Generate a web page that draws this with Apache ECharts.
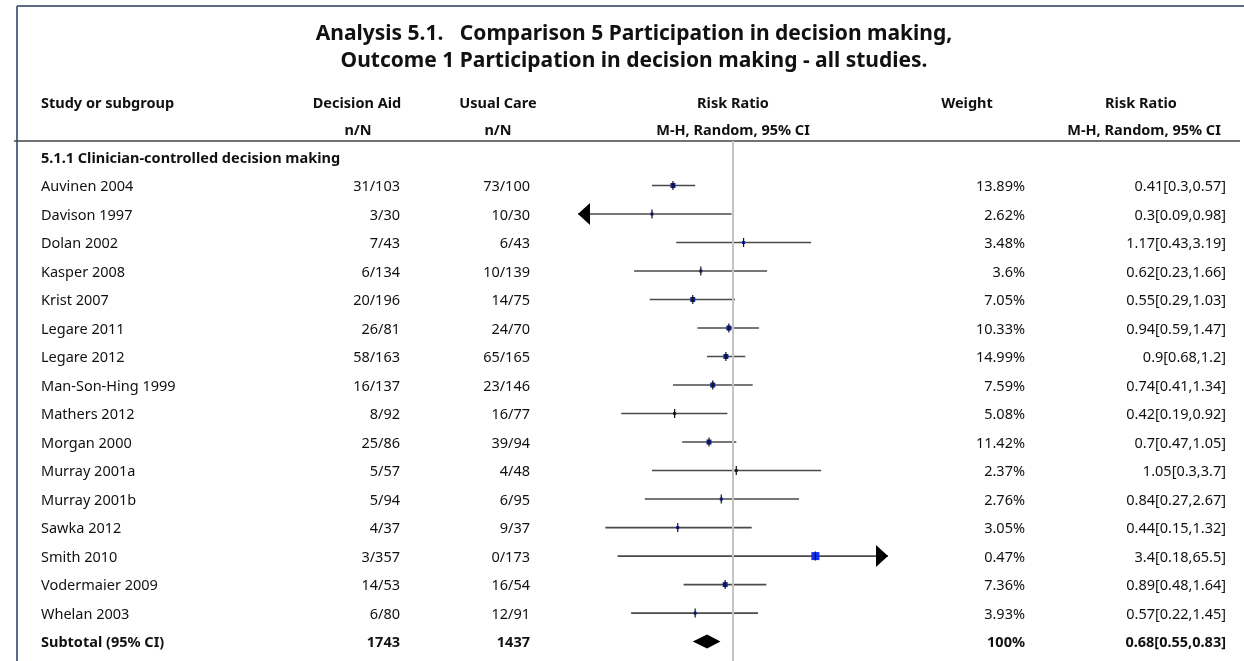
<!DOCTYPE html>
<html>
<head>
<meta charset="utf-8">
<script src="https://cdn.jsdelivr.net/npm/echarts@6/dist/echarts.min.js"></script>
<style>
  html, body { margin: 0; padding: 0; background: #fff; }
  #main { width: 1244px; height: 661px; }
</style>
</head>
<body>
<div id="main"></div>
<script>
// 数据
const studies = ['Auvinen 2004', 'Davison 1997', 'Dolan 2002', 'Kasper 2008', 'Krist 2007', 'Legare 2011', 'Legare 2012',
  'Man-Son-Hing 1999', 'Mathers 2012', 'Morgan 2000', 'Murray 2001a', 'Murray 2001b', 'Sawka 2012', 'Smith 2010',
  'Vodermaier 2009', 'Whelan 2003'];
const aidEvents = [31, 3, 7, 6, 20, 26, 58, 16, 8, 25, 5, 5, 4, 3, 14, 6];
const aidTotal = [103, 30, 43, 134, 196, 81, 163, 137, 92, 86, 57, 94, 37, 357, 53, 80];
const careEvents = [73, 10, 6, 10, 14, 24, 65, 23, 16, 39, 4, 6, 9, 0, 16, 12];
const careTotal = [100, 30, 43, 139, 75, 70, 165, 146, 77, 94, 48, 95, 37, 173, 54, 91];
const weights = [13.89, 2.62, 3.48, 3.6, 7.05, 10.33, 14.99, 7.59, 5.08, 11.42, 2.37, 2.76, 3.05, 0.47, 7.36, 3.93];
const rr = [0.41, 0.3, 1.17, 0.62, 0.55, 0.94, 0.9, 0.74, 0.42, 0.7, 1.05, 0.84, 0.44, 3.4, 0.89, 0.57];
const rrLow = [0.3, 0.09, 0.43, 0.23, 0.29, 0.59, 0.68, 0.41, 0.19, 0.47, 0.3, 0.27, 0.15, 0.18, 0.48, 0.22];
const rrHigh = [0.57, 0.98, 3.19, 1.66, 1.03, 1.47, 1.2, 1.34, 0.92, 1.05, 3.7, 2.67, 1.32, 65.5, 1.64, 1.45];
const subgroupLabel = '5.1.1 Clinician-controlled decision making';
const subtotal = { label: 'Subtotal (95% CI)', aid: 1743, care: 1437, weight: 100, rr: 0.68, low: 0.55, high: 0.83 };
const axisMin = 0.1;
const axisMax = 10;

// 版式
const FONT = '"Noto Sans"';
const TXT = '#111';
const colX = { study: 41, aid: 400, care: 530, weight: 1025, rr: 1226 };

const rows = studies.map((name, i) => ({
  row: i + 1, name: name, rr: rr[i], low: rrLow[i], high: rrHigh[i],
  aid: aidEvents[i] + '/' + aidTotal[i], care: careEvents[i] + '/' + careTotal[i],
  weight: weights[i] + '%', ci: rr[i] + '[' + rrLow[i] + ',' + rrHigh[i] + ']'
}));

function txt(x, y, s, align, bold) {
  return {
    type: 'text', x: x, y: y + 1.5,
    style: { text: s, fill: TXT, font: (bold ? 'bold 14.5px ' : '14.5px ') + FONT, textAlign: align, textVerticalAlign: 'middle' }
  };
}

// 每行的文字列
function renderTextRow(params, api) {
  const row = api.value(0);
  const y = api.coord([1, row])[1];
  if (row === 0) {
    return { type: 'group', children: [txt(colX.study, y, subgroupLabel, 'left', true)] };
  }
  if (row === studies.length + 1) {
    return {
      type: 'group', children: [
        txt(colX.study, y, subtotal.label, 'left', true),
        txt(colX.aid, y, String(subtotal.aid), 'right', true),
        txt(colX.care, y, String(subtotal.care), 'right', true),
        txt(colX.weight, y, subtotal.weight + '%', 'right', true),
        txt(colX.rr, y, subtotal.rr + '[' + subtotal.low + ',' + subtotal.high + ']', 'right', true)
      ]
    };
  }
  const r = rows[row - 1];
  return {
    type: 'group', children: [
      txt(colX.study, y, r.name, 'left'),
      txt(colX.aid, y, r.aid, 'right'),
      txt(colX.care, y, r.care, 'right'),
      txt(colX.weight, y, r.weight, 'right'),
      txt(colX.rr, y, r.ci, 'right')
    ]
  };
}

// 置信区间 + 点估计
function renderCI(params, api) {
  const row = api.value(0);
  const est = api.value(1), lo = api.value(2), hi = api.value(3);
  const y = api.coord([1, row])[1];
  const x1 = api.coord([Math.max(lo, axisMin), row])[0];
  const x2 = api.coord([Math.min(hi, axisMax), row])[0];
  const xe = api.coord([est, row])[0];
  const children = [{
    type: 'line', shape: { x1: x1, y1: y, x2: x2, y2: y },
    style: { stroke: '#4a4a4a', lineWidth: 1.6 }
  }];
  if (lo < axisMin) {
    children.push({ type: 'polygon', shape: { points: [[x1, y], [x1 + 12, y - 11], [x1 + 12, y + 11]] }, style: { fill: '#000' } });
  }
  if (hi > axisMax) {
    children.push({ type: 'polygon', shape: { points: [[x2, y], [x2 - 12, y - 11], [x2 - 12, y + 11]] }, style: { fill: '#000' } });
  }
  const s = est > 3 ? 8 : (api.value(4) > 7 ? 5 : 3);
  children.push({ type: 'rect', shape: { x: xe - s / 2, y: y - s / 2, width: s, height: s }, style: { fill: est > 3 ? '#1030f0' : '#102090' } });
  children.push({ type: 'line', shape: { x1: xe, y1: y - 4.5, x2: xe, y2: y + 4.5 }, style: { stroke: '#111', lineWidth: 1.2 } });
  return { type: 'group', children: children };
}

function renderDiamond(params, api) {
  const row = api.value(0);
  const y = api.coord([1, row])[1];
  const xl = api.coord([api.value(2), row])[0];
  const xe = api.coord([api.value(1), row])[0];
  const xh = api.coord([api.value(3), row])[0];
  return { type: 'polygon', shape: { points: [[xl, y], [xe, y - 7], [xh, y], [xe, y + 7]] }, style: { fill: '#000' } };
}

const textData = [[0]].concat(rows.map(r => [r.row]), [[studies.length + 1]]);
const ciData = rows.map((r, i) => [r.row, r.rr, r.low, r.high, weights[i]]);
const diamondData = [[studies.length + 1, subtotal.rr, subtotal.low, subtotal.high]];

const head = (x, y, s, align, size) => ({
  type: 'text', x: x, y: y + 1.5,
  style: { text: s, fill: TXT, font: 'bold ' + (size || 14.5) + 'px ' + FONT, textAlign: align, textVerticalAlign: 'middle' }
});

const option = {
  animation: false,
  grid: { left: 578, width: 310, top: 141, height: 520 },
  xAxis: { type: 'log', min: axisMin, max: axisMax, logBase: 10, show: false },
  yAxis: { type: 'value', inverse: true, min: -0.56, max: 17.68, show: false },
  graphic: [
    { type: 'line', shape: { x1: 17, y1: 6, x2: 1244, y2: 6 }, style: { stroke: '#5b6b85', lineWidth: 2 } },
    { type: 'line', shape: { x1: 17, y1: 6, x2: 17, y2: 661 }, style: { stroke: '#5b6b85', lineWidth: 2 } },
    head(634, 33, 'Analysis 5.1.   Comparison 5 Participation in decision making,', 'center', 21),
    head(634, 60, 'Outcome 1 Participation in decision making - all studies.', 'center', 21),
    head(41, 102, 'Study or subgroup', 'left'),
    head(357, 102, 'Decision Aid', 'center'),
    head(498, 102, 'Usual Care', 'center'),
    head(733, 102, 'Risk Ratio', 'center'),
    head(967, 102, 'Weight', 'center'),
    head(1141, 102, 'Risk Ratio', 'center'),
    head(358, 129, 'n/N', 'center'),
    head(498, 129, 'n/N', 'center'),
    head(733, 129, 'M-H, Random, 95% CI', 'center'),
    head(1144, 129, 'M-H, Random, 95% CI', 'center'),
    { type: 'line', shape: { x1: 14, y1: 141, x2: 1240, y2: 141 }, style: { stroke: '#444', lineWidth: 1.5 } }
  ],
  series: [
    {
      type: 'custom', name: 'ci', data: ciData, renderItem: renderCI, z: 3,
      markLine: {
        silent: true, symbol: 'none', label: { show: false },
        lineStyle: { color: '#c4c4c4', width: 2, type: 'solid' },
        data: [{ xAxis: 1 }]
      }
    },
    { type: 'custom', name: 'subtotal', data: diamondData, renderItem: renderDiamond, z: 3 },
    { type: 'custom', name: 'text', data: textData, renderItem: renderTextRow, clip: false, z: 4 }
  ]
};

const myChart = echarts.init(document.getElementById('main'));
myChart.setOption(option);
</script>
</body>
</html>
